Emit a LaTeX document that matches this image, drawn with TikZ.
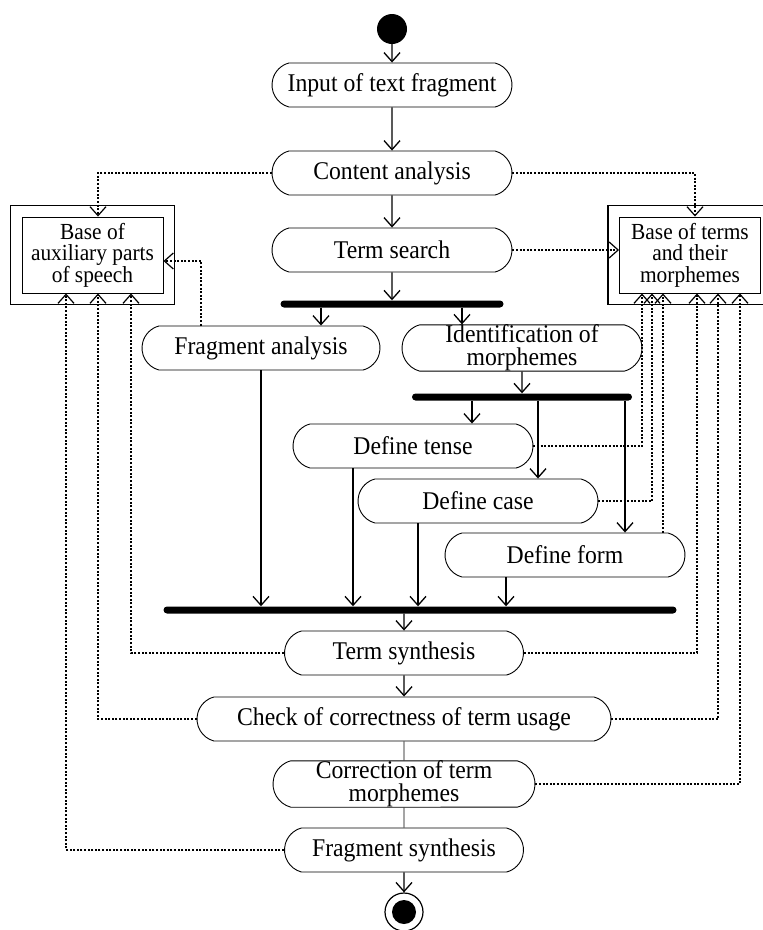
\documentclass[tikz,border=0pt]{standalone}
\usepackage{fontspec}
\setmainfont{Liberation Serif}[FakeStretch=0.93]
\usepackage{tikz}
\usetikzlibrary{arrows.meta,shapes.misc,positioning,fit,calc}
\tikzset{
	>={Straight Barb[length=9pt,width=16pt]},
	activity/.style={draw=black, line width=0.9pt, rounded rectangle,
		rounded rectangle arc length=150, minimum height=44pt, minimum width=240pt,
		inner sep=0pt, align=center, font=\fontsize{25.5}{23}\selectfont},
	flow/.style={draw=black, line width=1.3pt, ->},
	plain/.style={draw=black, line width=0.8pt},
	link/.style={draw=black, line width=1.2pt, dash pattern=on 2pt off 1.6pt, ->},
	syncbar/.style={fill=black, rounded corners=3.5pt, minimum height=7pt, inner sep=0pt},
	store/.style={draw=black, line width=0.9pt, minimum width=141pt, minimum height=76pt,
		inner sep=0pt, align=center, font=\fontsize{23}{21.5}\selectfont},
	storeframe/.style={draw=black, line width=1.8pt, inner sep=11pt},
	initial/.style={circle, fill=black, minimum size=30pt, inner sep=0pt},
	final/.style={circle, draw=black, line width=1.2pt, minimum size=38pt, inner sep=0pt},
}
\begin{document}
\begin{tikzpicture}[x=1pt, y=-1pt]
	\useasboundingbox (0,0) rectangle (763,930);
	% main flow
	\node[initial] (start) at (392,29) {};
	\node[activity] (input) at (392,85) {Input of text fragment};
	\node[activity] (content) at (392,173) {Content analysis};
	\node[activity] (tsearch) at (392,250) {Term search};
	\node[syncbar, minimum width=223pt] (bar1) at (392,304) {};
	\node[activity, minimum width=238pt] (frag) at (261,348) {Fragment analysis};
	\node[activity] (ident) at (522,348) {Identification of\\morphemes};
	\node[syncbar, minimum width=220pt] (bar2) at (522,397) {};
	\node[activity] (tense) at (413,446) {Define tense};
	\node[activity] (case) at (478,501) {Define case};
	\node[activity] (form) at (565,555) {Define form};
	\node[syncbar, minimum width=513pt] (bar3) at (420,610) {};
	\node[activity, minimum width=239pt] (tsyn) at (404,653) {Term synthesis};
	\node[activity, minimum width=414pt] (check) at (404,719) {Check of correctness of term usage};
	\node[activity, minimum width=262pt] (correct) at (404,784) {Correction of term\\morphemes};
	\node[activity, minimum width=239pt] (fsyn) at (404,850) {Fragment synthesis};
	\node[final] (stop) at (404,912) {};
	\node[initial, minimum size=24pt] (stopdot) at (stop) {};
	% the two bases
	\node[store] (aux) at (92.5,255) {Base of\\auxiliary parts\\of speech};
	\node[storeframe, fit=(aux)] (auxframe) {};
	\node[store] (terms) at (690,255) {Base of terms\\and their\\morphemes};
	\node[storeframe, fit=(terms)] (termsframe) {};

	\draw[flow] (start) -- (input);
	\draw[flow] (input) -- (content);
	\draw[flow] (content) -- (tsearch);
	\draw[flow] (tsearch) -- (bar1);
	\draw[flow] ([xshift=60pt]frag.north |- bar1.south) -- ([xshift=60pt]frag.north);
	\draw[flow] ([xshift=-60pt]ident.north |- bar1.south) -- ([xshift=-60pt]ident.north);
	\draw[flow] (ident) -- (bar2);
	\draw[flow] ([xshift=59pt]tense.north |- bar2.south) -- ([xshift=59pt]tense.north);
	\draw[flow] ([xshift=60pt]case.north |- bar2.south) -- ([xshift=60pt]case.north);
	\draw[flow] ([xshift=60pt]form.north |- bar2.south) -- ([xshift=60pt]form.north);
	\draw[flow] (frag.south) -- (frag.south |- bar3.north);
	\draw[flow] ([xshift=-60pt]tense.south) -- ([xshift=-60pt]tense.south |- bar3.north);
	\draw[flow] ([xshift=-60pt]case.south) -- ([xshift=-60pt]case.south |- bar3.north);
	\draw[flow] ([xshift=-59pt]form.south) -- ([xshift=-59pt]form.south |- bar3.north);
	\draw[flow] (bar3.south -| tsyn) -- (tsyn);
	\draw[flow] (tsyn) -- (check);
	\draw[plain] (check) -- (correct);
	\draw[plain] (correct) -- (fsyn);
	\draw[flow] (fsyn) -- (stop);

	% links to the bases
	\draw[link] (content.west) -| ([xshift=5.5pt]aux.north);
	\draw[link] (content.east) -| ([xshift=5pt]terms.north);
	\draw[link] (tsearch.east) -- (tsearch.east -| terms.west);
	\draw[link] ([xshift=-60pt]frag.north) |- ([yshift=-6pt]aux.east);
	\draw[link] (tense.east) -| ([xshift=-48pt]terms.south);
	\draw[link] (case.east) -| ([xshift=-38pt]terms.south);
	\draw[link] ([xshift=98pt]form.north) -- ([xshift=98pt]form.north |- terms.south);
	\draw[link] (tsyn.east) -| ([xshift=7pt]terms.south);
	\draw[link] (check.east) -| ([xshift=28pt]terms.south);
	\draw[link] (correct.east) -| ([xshift=50pt]terms.south);
	\draw[link] (tsyn.west) -| ([xshift=38.5pt]aux.south);
	\draw[link] (check.west) -| ([xshift=5.5pt]aux.south);
	\draw[link] (fsyn.west) -| ([xshift=-26.5pt]aux.south);
\end{tikzpicture}
\end{document}
